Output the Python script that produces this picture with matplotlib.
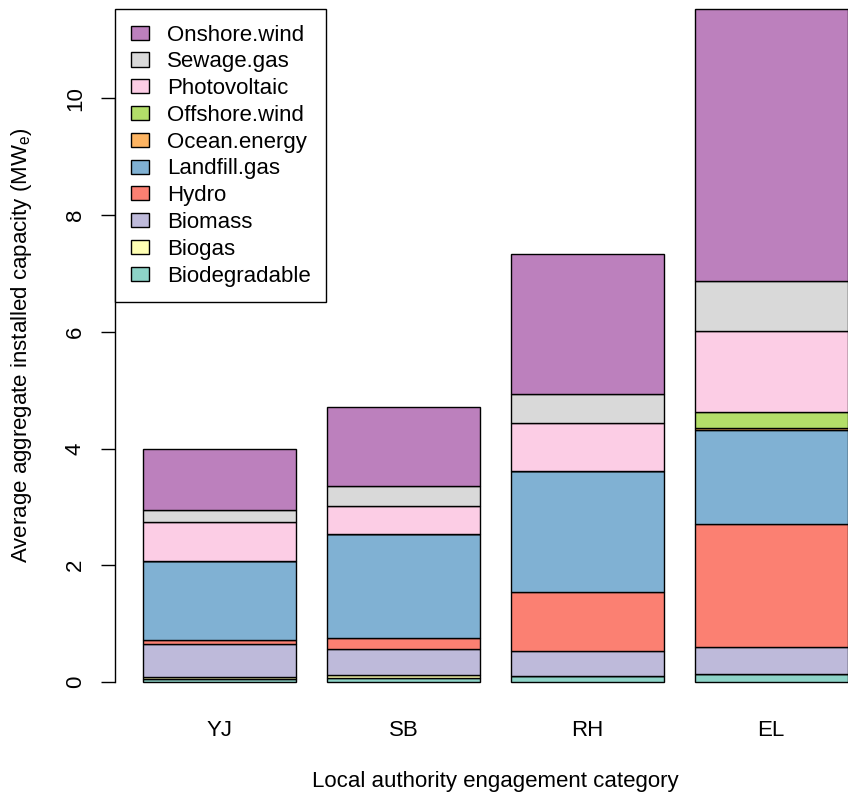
import numpy as np
import matplotlib
matplotlib.use('Agg')
import matplotlib.pyplot as plt

plt.rcParams['font.family'] = ['Liberation Sans', 'DejaVu Sans']

# average installed capacity (MWe) per engagement category
categories = ['YJ', 'SB', 'RH', 'EL']
biodegradable = [0.05, 0.07, 0.11, 0.13]
biogas = [0.03, 0.05, 0.0, 0.0]
biomass = [0.57, 0.44, 0.42, 0.475]
hydro = [0.07, 0.19, 1.01, 2.11]
landfill_gas = [1.355, 1.78, 2.08, 1.60]
ocean_energy = [0.0, 0.0, 0.0, 0.03]
offshore_wind = [0.0, 0.0, 0.0, 0.28]
photovoltaic = [0.675, 0.48, 0.81, 1.385]
sewage_gas = [0.205, 0.35, 0.505, 0.86]
onshore_wind = [1.045, 1.36, 2.40, 4.66]

tech_names = ['Biodegradable', 'Biogas', 'Biomass', 'Hydro', 'Landfill.gas',
              'Ocean.energy', 'Offshore.wind', 'Photovoltaic', 'Sewage.gas',
              'Onshore.wind']
series = [biodegradable, biogas, biomass, hydro, landfill_gas, ocean_energy,
          offshore_wind, photovoltaic, sewage_gas, onshore_wind]
# RColorBrewer Set3
colours = ['#8DD3C7', '#FFFFB3', '#BEBADA', '#FB8072', '#80B1D3',
           '#FDB462', '#B3DE69', '#FCCDE5', '#D9D9D9', '#BC80BD']

W, H = 848, 795
fig = plt.figure(figsize=(W / 100, H / 100), dpi=100)

# R barplot geometry: width 1, space 0.2
width = 1.0
space = 0.2
n = len(categories)
lefts = space + np.arange(n) * (width + space)
centers = lefts + width / 2

totals = np.sum(np.array(series), axis=0)
ymax = totals.max()
xr = (lefts[0], lefts[-1] + width)
xpad = 0.04 * (xr[1] - xr[0])

# plot region in pixels (right and top run off the picture)
px_left = 115
px_right = 876
px_bottom = 709
px_top = -18
ax = fig.add_axes([px_left / W, 1 - px_bottom / H,
                   (px_right - px_left) / W, (px_bottom - px_top) / H])

bottom = np.zeros(n)
handles = []
for name, vals, col in zip(tech_names, series, colours):
    vals = np.array(vals)
    b = ax.bar(centers, vals, width, bottom=bottom, color=col,
               edgecolor='black', linewidth=1.0, label=name)
    handles.append(b)
    bottom += vals

ax.set_xlim(xr[0] - xpad, xr[1] + xpad)
ax.set_ylim(-0.04 * ymax, 1.04 * ymax)

for s in ['top', 'right', 'bottom']:
    ax.spines[s].set_visible(False)
ax.spines['left'].set_bounds(0, 10)
ax.spines['left'].set_linewidth(1.0)

ax.set_yticks([0, 2, 4, 6, 8, 10])
ax.tick_params(axis='y', length=10, width=1.0, pad=11, labelsize=16,
               labelrotation=90)
for lab in ax.get_yticklabels():
    lab.set_va('center')

ax.set_xticks(centers)
ax.set_xticklabels(categories)
ax.tick_params(axis='x', length=0, pad=8, labelsize=16)

ax.set_xlabel('Local authority engagement category', fontsize=16)
ax.xaxis.set_label_coords(0.5, (px_bottom - 781) / (px_bottom - px_top))
ax.xaxis.label.set_va('center')
ax.set_ylabel(r'Average aggregate installed capacity (MW$_\mathregular{e}$)',
              fontsize=16)
ax.yaxis.set_label_coords((21 - px_left) / (px_right - px_left), 0.5)
ax.yaxis.label.set_va('center')

leg = ax.legend(handles[::-1], tech_names[::-1], loc='upper left',
                bbox_to_anchor=(115 / W, 1 - 9 / H),
                bbox_transform=fig.transFigure, borderaxespad=0,
                fontsize=16, frameon=True, fancybox=False, framealpha=1,
                edgecolor='black', handlelength=0.82, handleheight=0.6,
                handletextpad=0.82, borderpad=0.7, labelspacing=0.26)
leg.get_frame().set_linewidth(1.0)

fig.savefig('out.png', dpi=100)
